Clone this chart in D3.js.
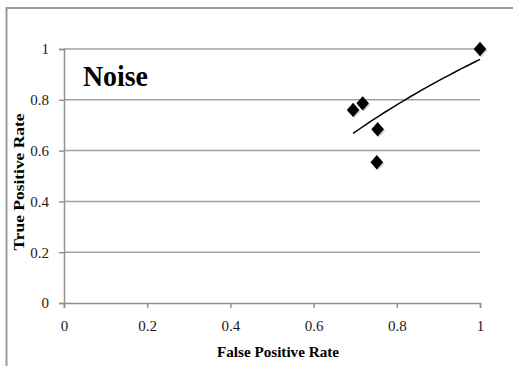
<!doctype html>
<html>
  <head>
    <meta charset="utf-8">
    <title>Noise</title>
    <script src="https://cdnjs.cloudflare.com/ajax/libs/d3/7.8.5/d3.min.js"></script>
    <style>
      body { margin: 0; background: #fff; }
      text { font-family: "Liberation Serif", "DejaVu Serif", serif; }
    </style>
  </head>
  <body>
    <div id="chart"></div>
    <script>
      // data
      const fpr = [0.695, 0.718, 0.754, 0.752, 1.0];
      const tpr = [0.760, 0.786, 0.684, 0.554, 1.0];
      const tickValues = [0, 0.2, 0.4, 0.6, 0.8, 1];
      const chartLabel = 'Noise';

      const width = 513, height = 366;
      const svg = d3.select('#chart').append('svg')
        .attr('width', width).attr('height', height);

      // outer frame (only top and left edges show)
      svg.append('path')
        .attr('d', 'M6.5,366 V8 H513')
        .attr('fill', 'none')
        .attr('stroke', '#9a9a9a')
        .attr('stroke-width', 2);

      const x = d3.scaleLinear().domain([0, 1]).range([64, 480]);
      const y = d3.scaleLinear().domain([0, 1]).range([303, 49]);

      // horizontal gridlines
      svg.append('g').selectAll('line')
        .data(tickValues.filter(d => d > 0))
        .join('line')
        .attr('x1', x(0)).attr('x2', x(1))
        .attr('y1', d => y(d)).attr('y2', d => y(d))
        .attr('stroke', '#a0a0a0')
        .attr('stroke-width', 1.5);

      const fmt = d => d === 0 || d === 1 ? String(d) : d3.format('.1f')(d);

      const xAxis = svg.append('g')
        .attr('transform', `translate(0,${y(0)})`)
        .call(d3.axisBottom(x).tickValues(tickValues).tickFormat(fmt).tickSize(5).tickPadding(10));
      const yAxis = svg.append('g')
        .attr('transform', `translate(${x(0)},0)`)
        .call(d3.axisLeft(y).tickValues(tickValues).tickFormat(fmt).tickSize(5).tickPadding(10));

      [xAxis, yAxis].forEach(g => {
        g.select('.domain').attr('stroke', '#909090').attr('stroke-width', 1.5);
        g.selectAll('.tick line').attr('stroke', '#909090').attr('stroke-width', 1.5);
        g.selectAll('.tick text')
          .attr('fill', '#1a1a1a')
          .style('font-size', '15px')
          .style('font-family', '"Liberation Serif", serif');
      });
      xAxis.selectAll('.tick text').attr('dy', '0.85em');

      // logarithmic trendline fitted to the points
      const lx = fpr.map(Math.log);
      const mx = d3.mean(lx), my = d3.mean(tpr);
      const b = d3.sum(lx, (v, i) => (v - mx) * (tpr[i] - my)) / d3.sum(lx, v => (v - mx) ** 2);
      const a = my - b * mx;
      const [xmin, xmax] = d3.extent(fpr);
      const trend = d3.range(0, 21).map(i => xmin + (xmax - xmin) * i / 20);
      svg.append('path')
        .datum(trend)
        .attr('d', d3.line().x(d => x(d)).y(d => y(a + b * Math.log(d))))
        .attr('fill', 'none')
        .attr('stroke', '#000')
        .attr('stroke-width', 1.5);

      // diamond markers with a soft shadow
      const diamond = d3.symbol().type(d3.symbolSquare).size(88);
      svg.append('g').selectAll('path')
        .data(fpr)
        .join('path')
        .attr('d', diamond)
        .attr('transform', (d, i) => `translate(${x(d) + 1},${y(tpr[i]) + 1.5}) rotate(45)`)
        .attr('fill', '#000')
        .attr('opacity', 0.18);
      svg.append('g').selectAll('path')
        .data(fpr)
        .join('path')
        .attr('d', diamond)
        .attr('transform', (d, i) => `translate(${x(d)},${y(tpr[i])}) scale(0.95,1.08) rotate(45)`)
        .attr('fill', '#000');

      // chart label
      svg.append('text')
        .attr('x', 83).attr('y', 86)
        .attr('textLength', 65)
        .attr('lengthAdjust', 'spacingAndGlyphs')
        .style('font-size', '29px')
        .style('font-weight', 'bold')
        .text(chartLabel);

      // axis titles
      svg.append('text')
        .attr('x', 278).attr('y', 357)
        .attr('text-anchor', 'middle')
        .attr('textLength', 122)
        .attr('lengthAdjust', 'spacingAndGlyphs')
        .style('font-size', '15px')
        .style('font-weight', 'bold')
        .text('False Positive Rate');

      svg.append('text')
        .attr('transform', 'translate(24,182) rotate(-90)')
        .attr('text-anchor', 'middle')
        .attr('textLength', 137)
        .attr('lengthAdjust', 'spacingAndGlyphs')
        .style('font-size', '15px')
        .style('font-weight', 'bold')
        .text('True Positive Rate');
    </script>
  </body>
</html>
